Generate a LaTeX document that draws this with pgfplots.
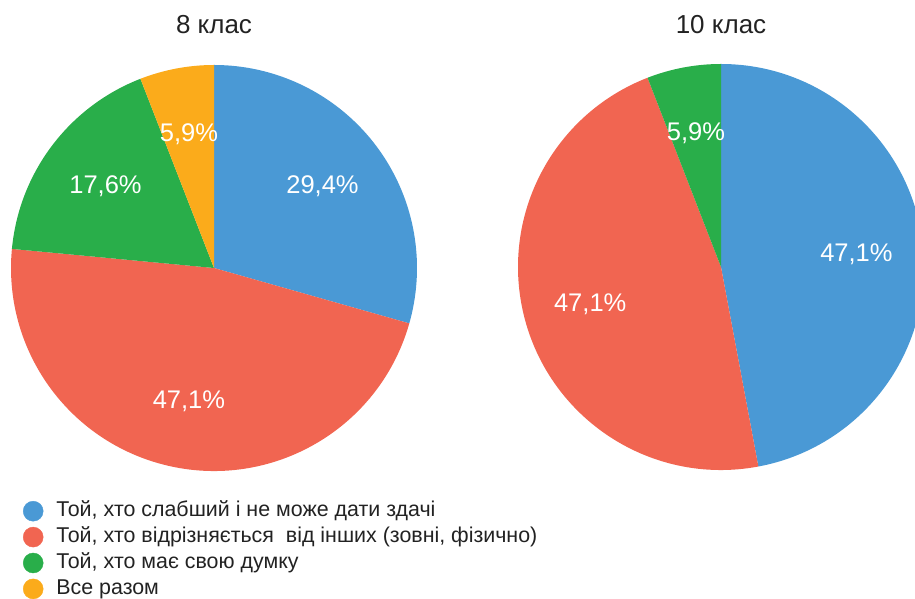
\documentclass[border=0pt]{standalone}
\usepackage{pgfplots}
\pgfplotsset{compat=1.18}
\usepackage{pgfplotstable}
\usepackage{fontspec}
\setmainfont{Liberation Sans}

\definecolor{cblue}{HTML}{4A99D5}
\definecolor{cred}{HTML}{F16551}
\definecolor{cgreen}{HTML}{29AE4A}
\definecolor{corange}{HTML}{FBAB1B}
\definecolor{ctext}{HTML}{222222}

% shares in percent, clockwise from 12 o'clock
\pgfplotstableread{
share color
29.4 cblue
47.1 cred
17.6 cgreen
5.9  corange
}\classeight
\pgfplotstableread{
share color
47.1 cblue
47.1 cred
5.9  cgreen
}\classten

\newcommand\pctfont{\fontsize{25.5}{30}\selectfont}

% #1 table, #2 cx, #3 cy, #4 radius (axis units = pt)
\newcommand\piechart[4]{%
  \pgfplotstablegetrowsof{#1}%
  \pgfmathtruncatemacro\nrows{\pgfplotsretval-1}%
  \gdef\total{0}%
  \foreach \i in {0,...,\nrows}{%
    \pgfplotstablegetelem{\i}{share}\of{#1}%
    \pgfmathparse{\total+\pgfplotsretval}\xdef\total{\pgfmathresult}}%
  \gdef\cum{0}%
  \foreach \i in {0,...,\nrows}{%
    \pgfplotstablegetelem{\i}{share}\of{#1}\let\v\pgfplotsretval
    \pgfplotstablegetelem{\i}{color}\of{#1}\let\c\pgfplotsretval
    \pgfmathsetmacro\sa{90-360*(\cum/\total)}%
    \pgfmathsetmacro\ea{90-360*((\cum+\v)/\total)}%
    \pgfmathsetmacro\ma{(\sa+\ea)/2}%
    \pgfmathsetmacro\lr{0.67*#4}%
    \pgfmathparse{\cum+\v}\xdef\cum{\pgfmathresult}%
    \edef\temp{%
      \noexpand\fill[\c] (axis cs:#2,#3) -- ([shift={(\sa:#4pt)}]axis cs:#2,#3)
        arc[start angle=\sa, end angle=\ea, radius=#4pt] -- cycle;
      \noexpand\node[white, font=\noexpand\pctfont, inner sep=0pt]
        at ([shift={(\ma:\lr pt)}]axis cs:#2,#3)
        {\noexpand\pgfmathprintnumber[fixed, precision=1, use comma, fixed zerofill, assume math mode=true]{\v}\noexpand\%};}%
    \temp
  }%
}

\begin{document}
\begin{tikzpicture}
  \begin{axis}[
      name=main,
      x=1pt, y=1pt,
      xmin=0, xmax=915, ymin=0, ymax=599,
      hide axis,
      clip=true,
      legend style={at={(axis cs:23,98)}, anchor=north west, draw=none, fill=none,
        font=\fontsize{21.4}{24}\selectfont, text=ctext, row sep=5.5pt,
        inner sep=0pt, outer sep=0pt,
        nodes={inner sep=0pt, text height=15pt, text depth=4pt}},
      legend cell align=left,
      legend image code/.code={\fill[#1] (10pt,0pt) circle (10pt);},
    ]
    \piechart{\classeight}{214}{331}{203}
    \piechart{\classten}{721}{332}{203}

    \node[font=\fontsize{26}{30}\selectfont, text=ctext] at (axis cs:214,574) {8 клас};
    \node[font=\fontsize{26}{30}\selectfont, text=ctext] at (axis cs:721,574) {10 клас};

    \addlegendimage{cblue}
    \addlegendentry{\hspace{13pt}Той, хто слабший і не може дати здачі}
    \addlegendimage{cred}
    \addlegendentry{\hspace{13pt}Той, хто відрізняється\ \ від інших (зовні, фізично)}
    \addlegendimage{cgreen}
    \addlegendentry{\hspace{13pt}Той, хто має свою думку}
    \addlegendimage{corange}
    \addlegendentry{\hspace{13pt}Все разом}
  \end{axis}
  \pgfresetboundingbox
  \path (main.south west) rectangle (main.north east);
\end{tikzpicture}
\end{document}
